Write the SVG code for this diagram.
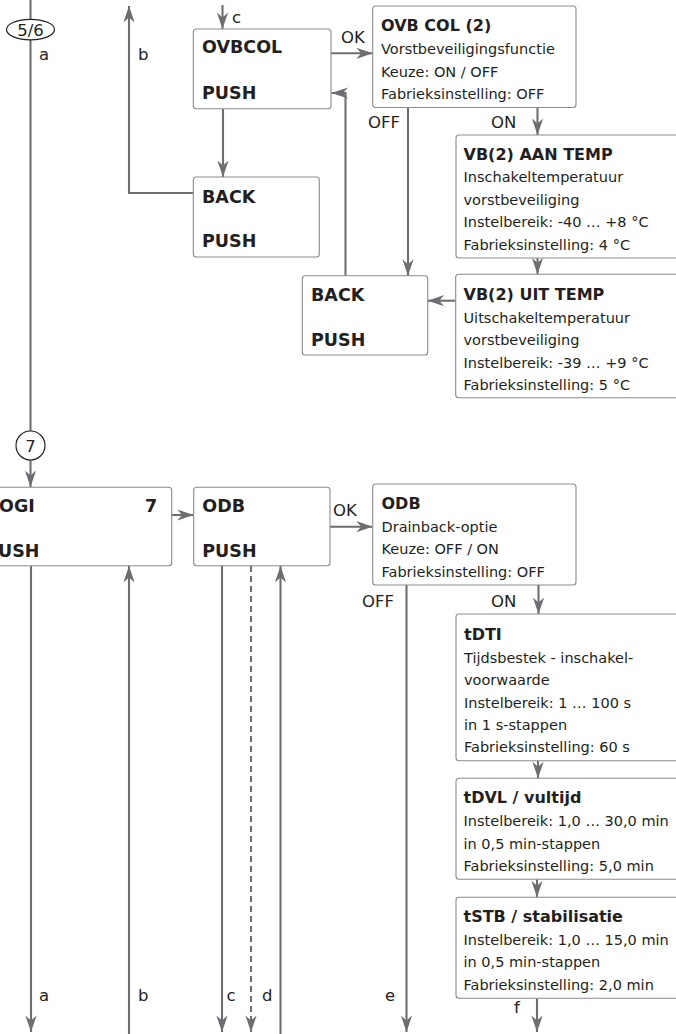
<svg xmlns="http://www.w3.org/2000/svg" width="676" height="1034" viewBox="0 0 676 1034">
<style>
.bx{fill:#fff;stroke:#8a8b8d;stroke-width:1.1}
.ln{fill:none;stroke:#6d6e71;stroke-width:2.1}
.arr{marker-end:url(#ah)}
.dash{stroke-dasharray:6 4}
.t{font-family:"DejaVu Sans",sans-serif;font-size:14.5px;fill:#231f20}
.h{font-family:"DejaVu Sans",sans-serif;font-size:16px;font-weight:bold;fill:#231f20}
.m{font-family:"DejaVu Sans",sans-serif;font-size:17.5px;font-weight:bold;fill:#231f20}
.l{font-family:"DejaVu Sans",sans-serif;font-size:16.5px;fill:#231f20}
.ring{fill:#fff;stroke:#231f20;stroke-width:1.2}
</style>
<defs>
<marker id="ah" viewBox="-17 -7 18 14" refX="0" refY="0" markerWidth="18" markerHeight="14" markerUnits="userSpaceOnUse" orient="auto">
<path d="M0,0 L-16.5,-5.6 L-11.5,0 L-16.5,5.6 Z" fill="#6d6e71"/>
</marker>
</defs>
<rect width="676" height="1034" fill="#fff"/>
<g id="connectors">
<line class="ln" x1="30.5" y1="0" x2="30.5" y2="19.5"/>
<line class="ln" x1="30.5" y1="39.5" x2="30.5" y2="431"/>
<line class="ln arr" x1="30.5" y1="460" x2="30.5" y2="487"/>
<line class="ln arr" x1="31" y1="566" x2="31" y2="1032"/>
<path class="ln arr" d="M193,193 H129 V6"/>
<line class="ln arr" x1="129" y1="1034" x2="129" y2="566"/>
<line class="ln arr" x1="222.5" y1="5" x2="222.5" y2="29"/>
<line class="ln arr" x1="223" y1="109" x2="223" y2="177"/>
<line class="ln arr" x1="331" y1="53.3" x2="372.7" y2="53.3"/>
<path class="ln arr" d="M345.5,275.7 V93 H331.5"/>
<line class="ln arr" x1="408" y1="108" x2="408" y2="275.7"/>
<line class="ln arr" x1="537.5" y1="108" x2="537.5" y2="135"/>
<line class="ln arr" x1="537.5" y1="258" x2="537.5" y2="274.3"/>
<line class="ln arr" x1="455.7" y1="300.7" x2="427.7" y2="300.7"/>
<line class="ln arr" x1="171.7" y1="515" x2="193.7" y2="515"/>
<line class="ln arr" x1="330" y1="526.7" x2="372.7" y2="526.7"/>
<line class="ln arr" x1="222" y1="566" x2="222" y2="1032"/>
<line class="ln arr dash" x1="251" y1="566" x2="251" y2="1032"/>
<line class="ln arr" x1="280.5" y1="1034" x2="280.5" y2="566"/>
<line class="ln arr" x1="406.5" y1="585" x2="406.5" y2="1032"/>
<line class="ln arr" x1="538.5" y1="585" x2="538.5" y2="614"/>
<line class="ln arr" x1="538" y1="760.7" x2="538" y2="778.3"/>
<line class="ln arr" x1="537" y1="879.3" x2="537" y2="897.3"/>
<line class="ln arr" x1="537" y1="998.3" x2="537" y2="1032"/>
<text class="l" x="39" y="60">a</text>
<text class="l" x="138" y="60">b</text>
<text class="l" x="232" y="23">c</text>
<text class="l" x="341" y="42.5">OK</text>
<text class="l" x="368" y="128">OFF</text>
<text class="l" x="491" y="128">ON</text>
<text class="l" x="333" y="516">OK</text>
<text class="l" x="362" y="606.5">OFF</text>
<text class="l" x="491" y="606.5">ON</text>
<text class="l" x="39" y="1001">a</text>
<text class="l" x="138" y="1001">b</text>
<text class="l" x="226.5" y="1001">c</text>
<text class="l" x="262" y="1001">d</text>
<text class="l" x="385" y="1001">e</text>
<text class="l" x="514" y="1013">f</text>
</g>
<g id="ref56">
<ellipse class="ring" cx="30.5" cy="29.6" rx="24" ry="10.3"/>
<text class="l" x="30.5" y="36" font-size="17.5" text-anchor="middle">5/6</text>
</g>
<g id="ref7">
<circle class="ring" cx="30.5" cy="445.5" r="14.5"/>
<text class="l" x="30.5" y="451.8" font-size="17" text-anchor="middle">7</text>
</g>
<g id="ovbcol">
<rect class="bx" x="193.3" y="29" width="137.7" height="79.7" rx="3"/>
<text class="m" x="202" y="53">OVBCOL</text>
<text class="m" x="202" y="99">PUSH</text>
</g>
<g id="back1">
<rect class="bx" x="193.3" y="177" width="126" height="80" rx="3"/>
<text class="m" x="202" y="203">BACK</text>
<text class="m" x="202" y="247">PUSH</text>
</g>
<g id="ovbcol2">
<rect class="bx" x="372.7" y="6" width="203.3" height="101.5" rx="3"/>
<text class="h" x="381" y="31">OVB COL (2)</text>
<text class="t" x="381" y="54">Vorstbeveiligingsfunctie</text>
<text class="t" x="381" y="76.5">Keuze: ON / OFF</text>
<text class="t" x="381" y="99">Fabrieksinstelling: OFF</text>
</g>
<g id="vbaan">
<rect class="bx" x="456" y="135" width="240" height="123" rx="3"/>
<text class="h" x="463.5" y="159.5">VB(2) AAN TEMP</text>
<text class="t" x="463.5" y="182">Inschakeltemperatuur</text>
<text class="t" x="463.5" y="204.5">vorstbeveiliging</text>
<text class="t" x="463.5" y="227">Instelbereik: -40 … +8 °C</text>
<text class="t" x="463.5" y="249.5">Fabrieksinstelling: 4 °C</text>
</g>
<g id="back2">
<rect class="bx" x="302.3" y="275.7" width="125.4" height="79.3" rx="3"/>
<text class="m" x="311" y="300.7">BACK</text>
<text class="m" x="311" y="346">PUSH</text>
</g>
<g id="vbuit">
<rect class="bx" x="455.7" y="274.3" width="240" height="123.4" rx="3"/>
<text class="h" x="463.5" y="300">VB(2) UIT TEMP</text>
<text class="t" x="463.5" y="322.5">Uitschakeltemperatuur</text>
<text class="t" x="463.5" y="345">vorstbeveiliging</text>
<text class="t" x="463.5" y="367.5">Instelbereik: -39 … +9 °C</text>
<text class="t" x="463.5" y="390">Fabrieksinstelling: 5 °C</text>
</g>
<g id="ogi">
<rect class="bx" x="-40" y="487.3" width="211.7" height="78.5" rx="3"/>
<text class="m" x="-1" y="512">OGI</text>
<text class="m" x="145" y="512">7</text>
<text class="m" x="-2" y="556.5">USH</text>
</g>
<g id="odb">
<rect class="bx" x="193.7" y="487.3" width="136.3" height="78.5" rx="3"/>
<text class="m" x="202.3" y="512">ODB</text>
<text class="m" x="202.3" y="556.5">PUSH</text>
</g>
<g id="odb2">
<rect class="bx" x="372.7" y="484" width="203.3" height="101" rx="3"/>
<text class="h" x="381.5" y="509">ODB</text>
<text class="t" x="381.5" y="531.5">Drainback-optie</text>
<text class="t" x="381.5" y="554">Keuze: OFF / ON</text>
<text class="t" x="381.5" y="576.5">Fabrieksinstelling: OFF</text>
</g>
<g id="tdti">
<rect class="bx" x="456" y="614" width="240" height="146.7" rx="3"/>
<text class="h" x="464" y="640">tDTI</text>
<text class="t" x="464" y="662.5">Tijdsbestek - inschakel-</text>
<text class="t" x="464" y="685">voorwaarde</text>
<text class="t" x="464" y="707.5">Instelbereik: 1 … 100 s</text>
<text class="t" x="464" y="730">in 1 s-stappen</text>
<text class="t" x="464" y="752">Fabrieksinstelling: 60 s</text>
</g>
<g id="tdvl">
<rect class="bx" x="456" y="778.3" width="240" height="101" rx="3"/>
<text class="h" x="463.5" y="803">tDVL / vultijd</text>
<text class="t" x="463.5" y="826">Instelbereik: 1,0 … 30,0 min</text>
<text class="t" x="463.5" y="848.5">in 0,5 min-stappen</text>
<text class="t" x="463.5" y="871">Fabrieksinstelling: 5,0 min</text>
</g>
<g id="tstb">
<rect class="bx" x="456" y="897.3" width="240" height="101" rx="3"/>
<text class="h" x="463.5" y="922">tSTB / stabilisatie</text>
<text class="t" x="463.5" y="944.5">Instelbereik: 1,0 … 15,0 min</text>
<text class="t" x="463.5" y="967">in 0,5 min-stappen</text>
<text class="t" x="463.5" y="989.5">Fabrieksinstelling: 2,0 min</text>
</g>
</svg>
